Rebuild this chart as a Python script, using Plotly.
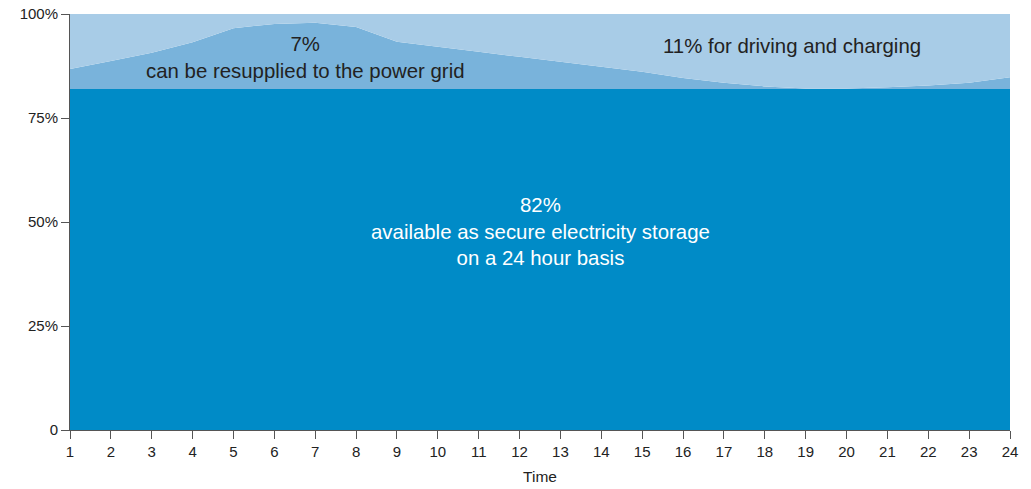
import plotly.graph_objects as go

hours = list(range(1, 25))
storage = [82] * 24
# top of the middle band (cumulative %)
mid_top = [86.8, 88.7, 90.7, 93.2, 96.6, 97.6, 97.9, 96.9, 93.3, 92.1, 90.9, 89.7,
           88.5, 87.3, 86.1, 84.6, 83.5, 82.6, 82.1, 82.1, 82.4, 82.8, 83.5, 84.8]
grid = [round(t - s, 2) for t, s in zip(mid_top, storage)]
driving = [round(100 - t, 2) for t in mid_top]

fig = go.Figure()
fig.add_trace(go.Scatter(x=hours, y=storage, stackgroup="one", mode="none",
                         fillcolor="rgb(0,139,199)", name="storage"))
fig.add_trace(go.Scatter(x=hours, y=grid, stackgroup="one", mode="none",
                         fillcolor="rgb(121,179,219)", name="grid"))
fig.add_trace(go.Scatter(x=hours, y=driving, stackgroup="one", mode="none",
                         fillcolor="rgb(168,204,231)", name="driving"))

fig.add_annotation(x=12.52, y=47.6, text="82%<br>available as secure electricity storage<br>on a 24 hour basis",
                   showarrow=False, font=dict(color="white", size=20.4), align="center")
fig.add_annotation(x=6.75, y=89.6, text="7%<br>can be resupplied to the power grid",
                   showarrow=False, font=dict(color="#222222", size=20.4), align="center")
fig.add_annotation(x=18.67, y=92.3, text="11% for driving and charging",
                   showarrow=False, font=dict(color="#222222", size=20.4), align="center")

fig.update_layout(
    width=1031, height=489,
    margin=dict(l=70, r=21, t=14, b=59, autoexpand=False),
    paper_bgcolor="white", plot_bgcolor="white",
    showlegend=False,
    font=dict(family="Liberation Sans, Arial, sans-serif", color="#222222", size=15),
    xaxis=dict(range=[1, 24], tickmode="array", tickvals=hours, ticktext=[str(h) for h in hours],
               showgrid=False, zeroline=False, showline=True, linecolor="#555555", linewidth=1,
               ticks="outside", ticklen=8, tickcolor="#555555", automargin=False,
               title=dict(text="Time", font=dict(size=15.5), standoff=12)),
    yaxis=dict(range=[0, 100], tickmode="array", tickvals=[0, 25, 50, 75, 100],
               ticktext=["0", "25%", "50%", "75%", "100%"], automargin=False,
               showgrid=False, zeroline=False, showline=True, linecolor="#555555", linewidth=1,
               ticks="outside", ticklen=8, tickcolor="#555555"),
)

fig.write_html("out.html", config={"displayModeBar": False},
               post_script="document.body.style.margin='0';")
